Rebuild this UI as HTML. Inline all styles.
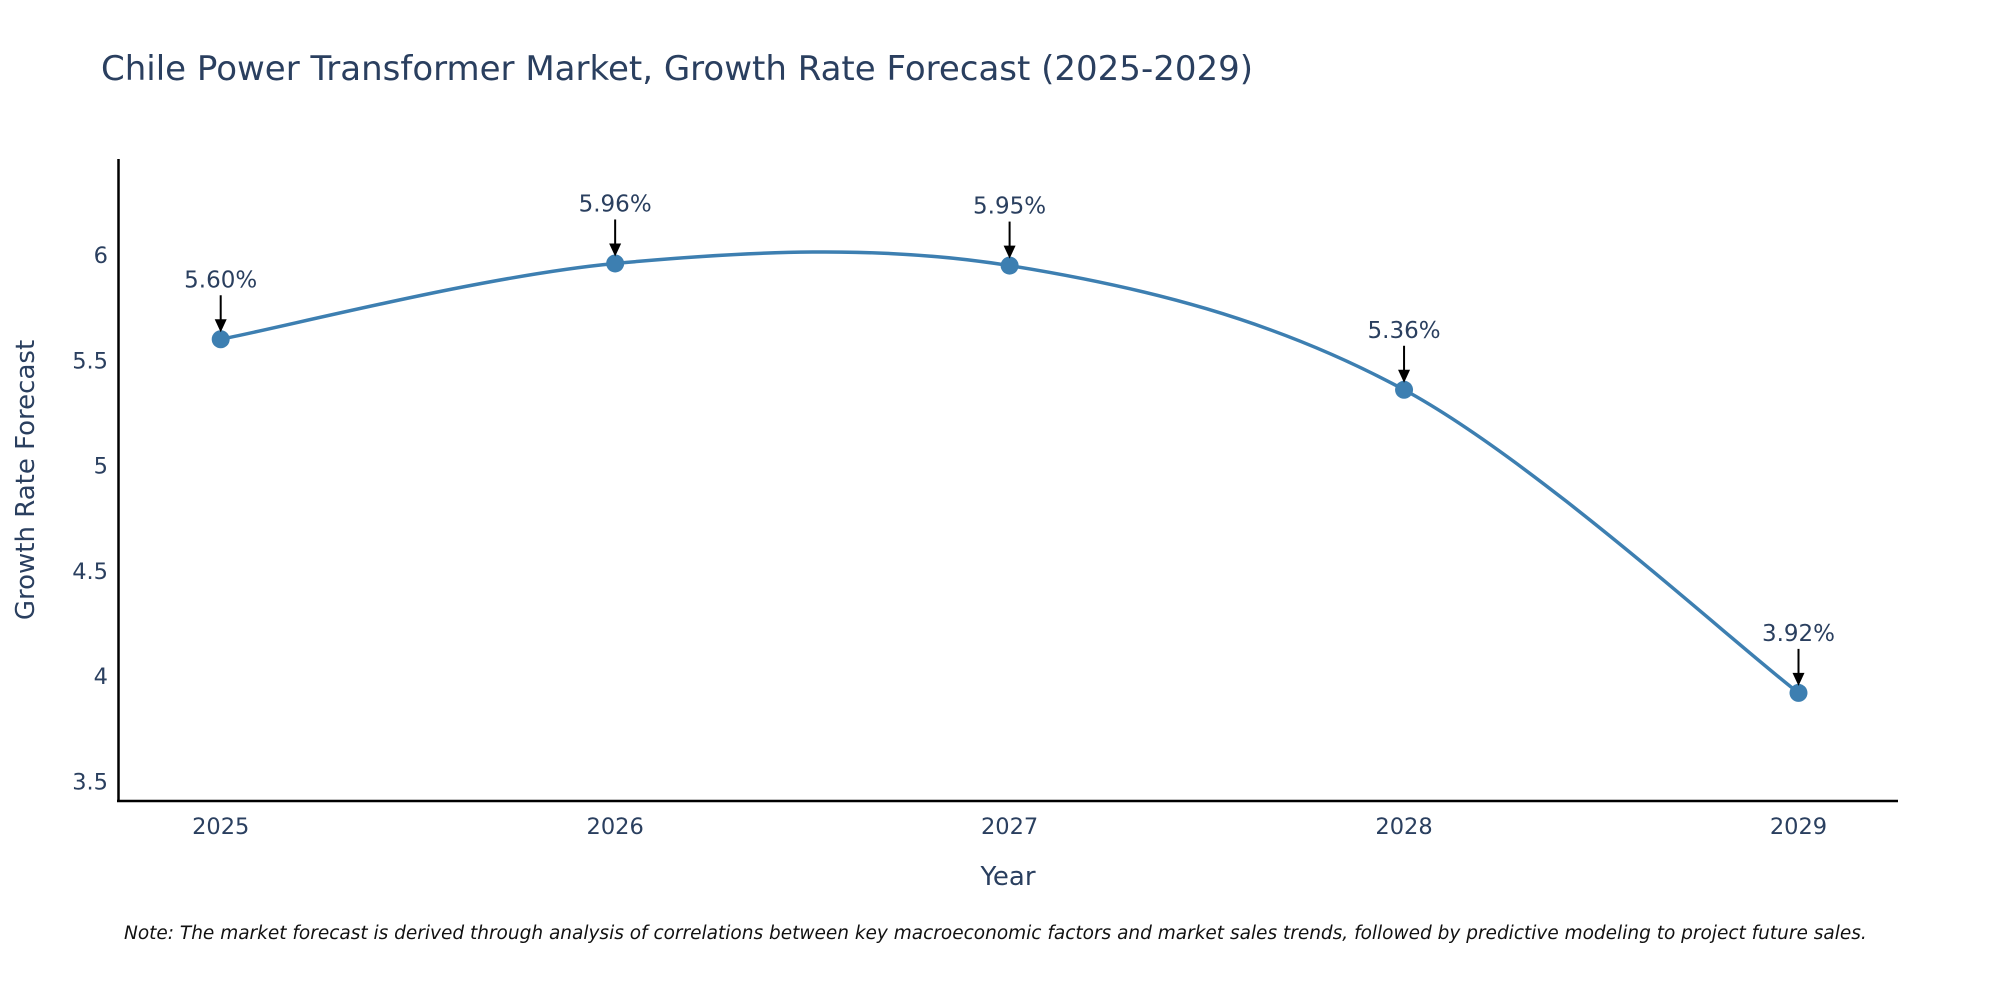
<!DOCTYPE html>
<html><head><meta charset="utf-8"><style>
html,body{margin:0;padding:0;background:#fff;}
svg{display:block;font-family:"DejaVu Sans","Liberation Sans",sans-serif;}
</style></head><body>
<svg id="chart" width="2000" height="1000" viewBox="0 0 2000 1000">
<text x="101" y="80" font-size="34" fill="#2a3f5f">Chile Power Transformer Market, Growth Rate Forecast (2025-2029)</text>
<g id="yticks"></g><g id="xticks"></g>
<line x1="118.5" y1="159" x2="118.5" y2="802" stroke="#000" stroke-width="2.5"/>
<line x1="117" y1="801" x2="1898" y2="801" stroke="#000" stroke-width="2.5"/>
<path id="line" fill="none" stroke="#3d7fb1" stroke-width="3.5"/>
<g id="points"></g><g id="annots"></g>
<text x="1008" y="885" font-size="26" fill="#2a3f5f" text-anchor="middle">Year</text>
<text transform="translate(34,480) rotate(-90)" font-size="26" fill="#2a3f5f" text-anchor="middle">Growth Rate Forecast</text>
<text x="124" y="939" font-size="18.5" font-style="italic" fill="#111">Note: The market forecast is derived through analysis of correlations between key macroeconomic factors and market sales trends, followed by predictive modeling to project future sales.</text>
</svg>
<script>
const years=[2025,2026,2027,2028,2029];
const values=[5.60,5.96,5.95,5.36,3.92];
const labels=["5.60%","5.96%","5.95%","5.36%","3.92%"];
const yTicks=[3.5,4,4.5,5,5.5,6];
const yTickLabels=["3.5","4","4.5","5","5.5","6"];
const NS="http://www.w3.org/2000/svg";
function xs(v){return 220.7+(v-2025)*(1798.5-220.7)/4;}
function ys(v){return 781.3-(v-3.5)*210.5;}
function mk(tag,attrs,parent,txt){const e=document.createElementNS(NS,tag);for(const k in attrs)e.setAttribute(k,attrs[k]);if(txt!==undefined)e.textContent=txt;parent.appendChild(e);return e;}
const yt=document.getElementById('yticks');
yTicks.forEach((t,i)=>{const e=mk('text',{x:108,y:ys(t)+8,'font-size':22.5,fill:'#2a3f5f','text-anchor':'end'},yt,yTickLabels[i]);

});
const xt=document.getElementById('xticks');
years.forEach(y=>{const e=mk('text',{x:xs(y),y:834,'font-size':22.5,fill:'#2a3f5f','text-anchor':'middle'},xt,String(y));

});
const P=years.map((y,i)=>[xs(y),ys(values[i])]);
let d=`M${P[0][0]},${P[0][1]}`;
for(let i=0;i<P.length-1;i++){const p0=P[Math.max(0,i-1)],p1=P[i],p2=P[i+1],p3=P[Math.min(P.length-1,i+2)];
const c1=[p1[0]+(p2[0]-p0[0])/6,p1[1]+(p2[1]-p0[1])/6],c2=[p2[0]-(p3[0]-p1[0])/6,p2[1]-(p3[1]-p1[1])/6];
d+=` C${c1[0]},${c1[1]} ${c2[0]},${c2[1]} ${p2[0]},${p2[1]}`;}
document.getElementById('line').setAttribute('d',d);
const pg=document.getElementById('points'),ag=document.getElementById('annots');
P.forEach((p,i)=>{const c=mk('circle',{cx:p[0],cy:p[1],r:9,fill:'#3d7fb1'},pg);


const l=mk('line',{x1:p[0],y1:p[1]-44,x2:p[0],y2:p[1]-18,stroke:'#000','stroke-width':2},ag);


const h=mk('path',{d:`M${p[0]-6},${p[1]-20} L${p[0]+6},${p[1]-20} L${p[0]},${p[1]-7} Z`,fill:'#000'},ag);


const t=mk('text',{x:p[0],y:p[1]-52,'font-size':23,fill:'#2a3f5f','text-anchor':'middle'},ag,labels[i]);

});
</script>
</body></html>
